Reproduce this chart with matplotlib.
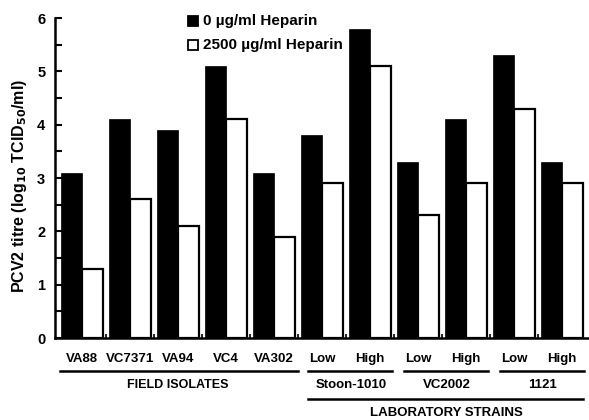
import numpy as np
import matplotlib.pyplot as plt

plt.rcParams['font.family'] = ['Liberation Sans', 'DejaVu Sans']
plt.rcParams['font.weight'] = 'bold'

# PCV2 titres (log10 TCID50/ml) with and without heparin
bar_labels = ['VA88', 'VC7371', 'VA94', 'VC4', 'VA302',
              'Low', 'High', 'Low', 'High', 'Low', 'High']
no_heparin = [3.1, 4.1, 3.9, 5.1, 3.1, 3.8, 5.8, 3.3, 4.1, 5.3, 3.3]
heparin_2500 = [1.3, 2.6, 2.1, 4.1, 1.9, 2.9, 5.1, 2.3, 2.9, 4.3, 2.9]
series_names = ['0 µg/ml Heparin', '2500 µg/ml Heparin']

# strain groups under the bar labels: (text, first bar, last bar)
strain_groups = [('Stoon-1010', 5, 6), ('VC2002', 7, 8), ('1121', 9, 10)]
main_groups = [('FIELD ISOLATES', 0, 4), ('LABORATORY STRAINS', 5, 10)]

fig = plt.figure(figsize=(5.89, 4.20), dpi=100)
ax = fig.add_axes([55 / 589, 1 - 338 / 420, 534 / 589, 320 / 420])

x = np.arange(len(bar_labels))
w = 0.44
ax.bar(x - w / 2, no_heparin, w, color='black', edgecolor='black', linewidth=0.5)
ax.bar(x + w / 2, heparin_2500, w, color='white', edgecolor='black', linewidth=1.6)

ax.set_xlim(-0.56, len(bar_labels) - 0.44)
ax.set_ylim(0, 6)
ax.spines['top'].set_visible(False)
ax.spines['right'].set_visible(False)
ax.spines['left'].set_linewidth(1.8)
ax.spines['bottom'].set_linewidth(1.8)

ax.set_yticks(range(7))
ax.set_yticks(np.arange(0.5, 6, 1), minor=True)
ax.tick_params(axis='y', which='both', direction='in', length=5, width=1.5,
               labelsize=10.5, pad=7)
ax.set_xticks(x[:-1] + 0.5)
ax.set_xticklabels([])
ax.tick_params(axis='x', direction='in', length=3, width=1.2)
for lab in ax.get_yticklabels():
    lab.set_fontweight('bold')

fig.text(20 / 589, 1 - 185.5 / 420, 'PCV2 titre (log$_{10}$ TCID$_{50}$/ml)',
         rotation=90, ha='center', va='center', fontsize=11.5, fontweight='bold')

# legend drawn as square markers with text
for i, (name, fc) in enumerate(zip(series_names, ['black', 'white'])):
    yy = 0.99 - i * 0.075
    ax.plot([0.258], [yy], marker='s', ms=7.5, mfc=fc, mec='black', mew=1.3,
            transform=ax.transAxes, clip_on=False)
    ax.text(0.277, yy, name, transform=ax.transAxes, fontsize=11,
            fontweight='bold', va='center', ha='left')

trans = ax.get_xaxis_transform()
for xi, lab in zip(x, bar_labels):
    ax.text(xi, -0.066, lab, transform=trans, ha='center', va='center',
            fontsize=9.5, fontweight='bold')

for name, a, b in strain_groups:
    ax.plot([a - 0.29, b + 0.46], [-0.103, -0.103], color='black', lw=1.8,
            transform=trans, clip_on=False)
    ax.text((a + b) / 2 + 0.1, -0.147, name, transform=trans, ha='center',
            va='center', fontsize=9.5, fontweight='bold')

field = main_groups[0]
ax.plot([field[1] - 0.46, field[2] + 0.5], [-0.103, -0.103], color='black',
        lw=1.8, transform=trans, clip_on=False)
ax.text(2.0, -0.147, field[0], transform=trans, ha='center', va='center',
        fontsize=9, fontweight='bold')

lab_grp = main_groups[1]
ax.plot([lab_grp[1] - 0.29, lab_grp[2] + 0.44], [-0.191, -0.191], color='black',
        lw=1.8, transform=trans, clip_on=False)
ax.text(7.58, -0.234, lab_grp[0], transform=trans, ha='center', va='center',
        fontsize=9.5, fontweight='bold')

fig.savefig('out.png', dpi=100)
